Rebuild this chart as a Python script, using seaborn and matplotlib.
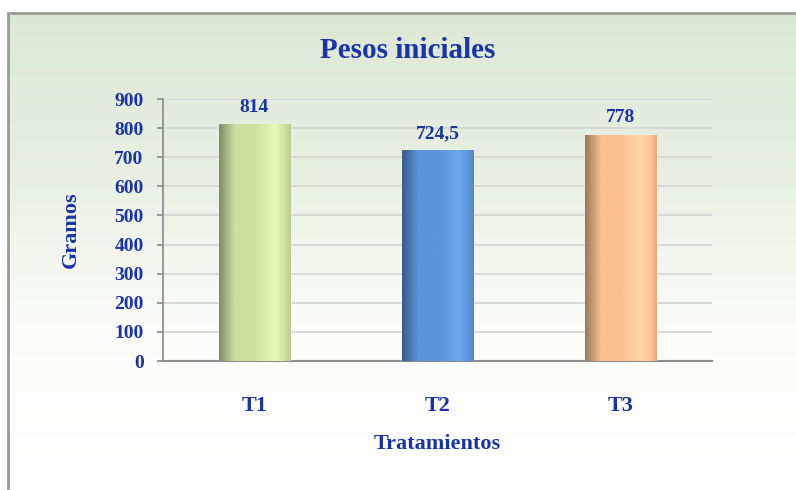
import matplotlib
matplotlib.use("Agg")
import matplotlib.pyplot as plt
from matplotlib.colors import LinearSegmentedColormap, to_rgb
from matplotlib.patches import Rectangle
import numpy as np
import pandas as pd
import seaborn as sns

# data
tratamientos = ["T1", "T2", "T3"]
pesos = [814, 724.5, 778]
etiquetas = ["814", "724,5", "778"]
colores = ["#cfdfa0", "#5b93d9", "#fac090"]
y_ticks = [0, 100, 200, 300, 400, 500, 600, 700, 800, 900]

sns.set_theme(style="white")
plt.rcParams["font.family"] = ["Liberation Serif", "DejaVu Serif"]
plt.rcParams["font.weight"] = "bold"
plt.rcParams["axes.labelweight"] = "bold"

AZUL = "#1a33a6"
GRIS = "#8c8c8c"

fig = plt.figure(figsize=(7.96, 4.9), dpi=100)

# greenish background panel inside the frame
bg = fig.add_axes([8 / 796, 0, 1 - 8 / 796, 1 - 13 / 490])
cmap_bg = LinearSegmentedColormap.from_list(
    "bg", [(0, "#dde8d4"), (0.35, "#e9f0e3"), (0.65, "#fbfcfa"), (1, "#ffffff")]
)
bg.imshow(np.linspace(0, 1, 256).reshape(-1, 1), aspect="auto", cmap=cmap_bg, extent=[0, 1, 0, 1])
bg.axis("off")
fig.add_artist(Rectangle((8 / 796, -0.05), 1.1, 1 - 13 / 490 + 0.05,
                         transform=fig.transFigure, fill=False, edgecolor="#9a9a9a", lw=2))

ax = fig.add_axes([163 / 796, 1 - 361 / 490, 549 / 796, 262 / 490])
ax.patch.set_alpha(0)

df = pd.DataFrame({"Tratamiento": tratamientos, "Peso": pesos})
sns.barplot(data=df, x="Tratamiento", y="Peso", hue="Tratamiento", palette=colores,
            width=0.39, saturation=1, legend=False, ax=ax, zorder=3)

# cylinder-like shading on each bar
for patch, c in zip(ax.patches, colores):
    x0, y0 = patch.get_x(), patch.get_y()
    w, h = patch.get_width(), patch.get_height()
    base = np.array(to_rgb(c))
    dark = base * 0.62
    light = np.minimum(base * 1.06 + 0.05, 1)
    cm = LinearSegmentedColormap.from_list(
        "", [(0, dark), (0.22, base), (0.5, base), (0.78, light), (0.93, base), (1, base * 0.9)]
    )
    img = ax.imshow(np.linspace(0, 1, 256).reshape(1, -1), cmap=cm, aspect="auto",
                    extent=[x0, x0 + w, y0, y0 + h], zorder=4)
    img.set_clip_path(patch)

for cont, lab in zip(ax.containers, etiquetas):
    ax.bar_label(cont, labels=[lab], padding=6, fontsize=14, color=AZUL, fontweight="bold")

ax.set_xlim(-0.5, 2.5)
ax.set_ylim(0, 900)
ax.set_yticks(y_ticks)
ax.yaxis.grid(True, color="#d4d4d4", lw=1.2)
ax.set_axisbelow(True)
for s in ["top", "right"]:
    ax.spines[s].set_visible(False)
ax.spines["left"].set_color(GRIS)
ax.spines["bottom"].set_color(GRIS)
ax.spines["bottom"].set_linewidth(1.5)

ax.tick_params(axis="y", left=True, length=4, color=GRIS, pad=10, labelsize=14, labelcolor=AZUL)
ax.tick_params(axis="x", bottom=False, pad=19, labelsize=16, labelcolor=AZUL)
ax.set_xlabel("Tratamientos", fontsize=16, color=AZUL, labelpad=13)
ax.set_ylabel("Gramos", fontsize=16, color=AZUL, labelpad=24)

fig.text(408 / 796, 1 - 51 / 490, "Pesos iniciales", ha="center", va="center",
         fontsize=21, color=AZUL, fontweight="bold")

fig.savefig("out.png", dpi=100)
